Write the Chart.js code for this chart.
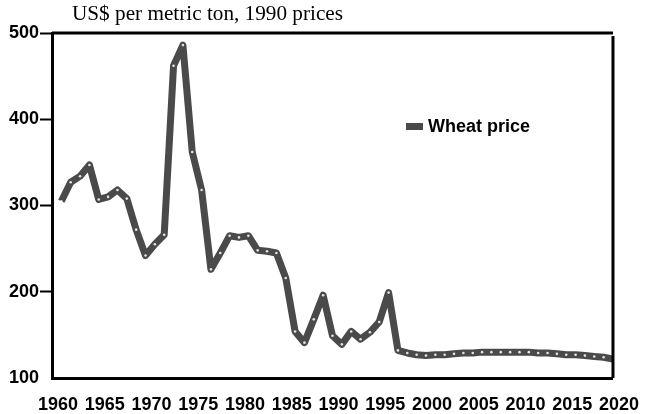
<!DOCTYPE html>
<html>
<head>
<meta charset="utf-8">
<script src="https://cdn.jsdelivr.net/npm/chart.js@4.4.1/dist/chart.umd.min.js"></script>
<style>
  html, body { margin: 0; padding: 0; background: #ffffff; }
  #wrap { width: 649px; height: 414px; }
</style>
</head>
<body>
<div id="wrap"><canvas id="c" width="649" height="414"></canvas></div>
<script>
// ---- data ----
const years = [1961,1962,1963,1964,1965,1966,1967,1968,1969,1970,
               1971,1972,1973,1974,1975,1976,1977,1978,1979,1980,
               1981,1982,1983,1984,1985,1986,1987,1988,1989,1990,
               1991,1992,1993,1994,1995,1996,1997,1998,1999,2000,
               2001,2002,2003,2004,2005,2006,2007,2008,2009,2010,
               2011,2012,2013,2014,2015,2016,2017,2018,2019,2020];
const wheatPrice = [305,327,334,347,307,310,318,308,272,242,
                    255,266,462,486,362,318,226,245,265,263,
                    265,248,247,245,216,154,141,168,196,149,
                    139,154,145,153,165,199,132,129,127,126,
                    127,127,128,129,129,130,130,130,130,130,
                    130,129,129,128,127,127,126,125,124,122];
const seriesLabel = "Wheat price";
const titleText = "US$ per metric ton, 1990 prices";
const xTicks = [1960,1965,1970,1975,1980,1985,1990,1995,2000,2005,2010,2015,2020];
const yTicks = [100,200,300,400,500];

const LINE = '#4a4a4a';
const SANS = "'Liberation Sans', Arial, sans-serif";
const SERIF = "'Liberation Serif', 'Times New Roman', serif";

const framePlugin = {
  id: 'frame',
  afterDraw(chart) {
    const ctx = chart.ctx, a = chart.chartArea;
    ctx.save();
    ctx.strokeStyle = '#000';
    ctx.lineWidth = 3;
    ctx.beginPath();
    ctx.moveTo(a.left, a.top);
    ctx.lineTo(a.right, a.top);
    ctx.moveTo(a.right, a.top + 3);
    ctx.lineTo(a.right, a.bottom);
    ctx.stroke();
    // title
    ctx.fillStyle = '#000';
    ctx.font = "20px " + SERIF;
    ctx.textBaseline = 'alphabetic';
    const w = ctx.measureText(titleText).width;
    const sx = 271 / w;
    ctx.translate(72, 19.5);
    ctx.scale(sx, 1);
    ctx.fillText(titleText, 0, 0);
    ctx.restore();
    // legend
    ctx.save();
    const ds = chart.data.datasets[0];
    ctx.fillStyle = ds.borderColor;
    ctx.fillRect(406, 123, 17, 7);
    ctx.fillStyle = '#000';
    ctx.font = "bold 18px " + SANS;
    ctx.textBaseline = 'middle';
    ctx.fillText(ds.label, 428, 127);
    ctx.restore();
  }
};

new Chart(document.getElementById('c'), {
  type: 'line',
  data: {
    datasets: [{
      label: seriesLabel,
      data: years.map((y, i) => ({ x: y, y: wheatPrice[i] })),
      borderColor: LINE,
      backgroundColor: LINE,
      borderWidth: 7,
      borderJoinStyle: 'round',
      tension: 0,
      pointStyle: 'circle',
      pointRadius: 1.3,
      pointBackgroundColor: 'rgba(255,255,255,0.85)',
      pointBorderWidth: 0,
      fill: false
    }]
  },
  options: {
    responsive: false,
    animation: false,
    devicePixelRatio: 1,
    layout: { padding: { left: 0, right: 28, top: 33, bottom: 0 } },
    plugins: {
      legend: { display: false },
      title: { display: false },
      tooltip: { enabled: false }
    },
    scales: {
      x: {
        type: 'linear',
        min: 1960,
        max: 2020,
        afterBuildTicks: s => { s.ticks = xTicks.map(v => ({ value: v })); },
        afterFit: s => { s.height = 36; },
        grid: { drawOnChartArea: false, drawTicks: false },
        border: { display: true, color: '#000', width: 3 },
        ticks: {
          autoSkip: false,
          maxRotation: 0,
          padding: 16,
          labelOffset: 6,
          color: '#000',
          font: { family: SANS, size: 18, weight: 'bold' },
          callback: v => String(v)
        }
      },
      y: {
        min: 100,
        max: 500,
        afterBuildTicks: s => { s.ticks = yTicks.map(v => ({ value: v })); },
        afterFit: s => { s.width = 52; },
        grid: {
          drawOnChartArea: false,
          drawTicks: true,
          tickLength: 12,
          tickWidth: 2,
          tickColor: c => (c.tick && c.tick.value === 100) ? 'rgba(0,0,0,0)' : '#000'
        },
        border: { display: true, color: '#000', width: 3 },
        ticks: {
          padding: 1,
          color: '#000',
          font: { family: SANS, size: 18, weight: 'bold' },
          callback: v => String(v)
        }
      }
    }
  },
  plugins: [framePlugin]
});
</script>
</body>
</html>
